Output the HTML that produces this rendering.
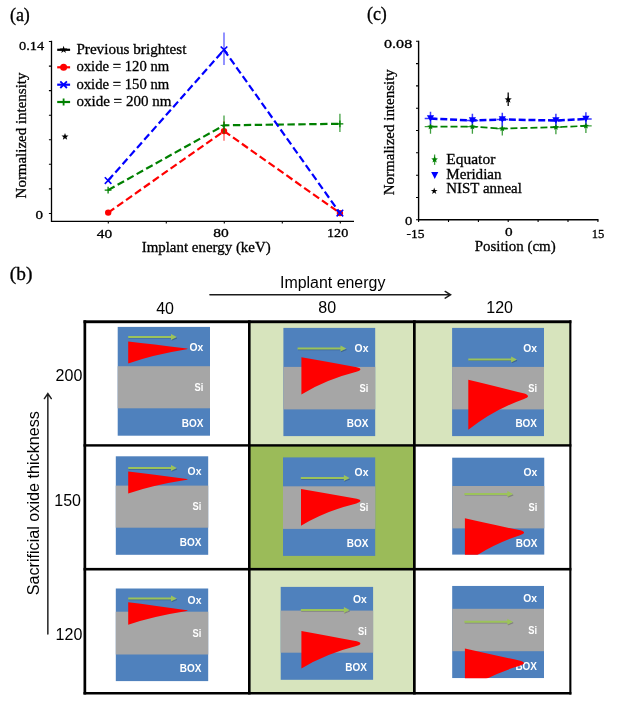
<!DOCTYPE html>
<html><head><meta charset="utf-8"><title>Figure</title>
<style>html,body{margin:0;padding:0;background:#fff;}svg{display:block;}</style></head><body>
<svg width="621" height="725" viewBox="0 0 621 725" style="will-change:transform">
<rect x="0" y="0" width="621" height="725" fill="#fff"/>
<text x="9.9" y="20.5" font-size="18" font-family="'Liberation Serif', serif" text-anchor="start" fill="#000" stroke="#000" stroke-width="0.3" >(a)</text>
<text x="366.9" y="20.1" font-size="18" font-family="'Liberation Serif', serif" text-anchor="start" fill="#000" stroke="#000" stroke-width="0.3" >(c)</text>
<text x="9.8" y="280.3" font-size="18" font-family="'Liberation Serif', serif" text-anchor="start" fill="#000" stroke="#000" stroke-width="0.3" textLength="22.6" lengthAdjust="spacingAndGlyphs" >(b)</text>
<path d="M51.5 40.8L51.5 221.4L354 221.4" stroke="#000" stroke-width="1.3" fill="none"/>
<path d="M48.9 41.5L51.5 41.5M48.9 66.1L51.5 66.1M48.9 90.6L51.5 90.6M48.9 115.2L51.5 115.2M48.9 139.8L51.5 139.8M48.9 164.3L51.5 164.3M48.9 188.9L51.5 188.9M48.9 213.5L51.5 213.5M108.3 221.4L108.3 223.5M166.3 221.4L166.3 223.5M224.3 221.4L224.3 223.5M282.3 221.4L282.3 223.5M340.3 221.4L340.3 223.5" stroke="#000" stroke-width="1.1" fill="none"/>
<path d="M224 121L224 140.8" stroke="#ff0000" stroke-opacity="0.6" stroke-width="1.4"/>
<polyline points="108.2,212.6 224,131.1 339.9,213.1" stroke="#ff0000" stroke-width="2.2" fill="none" stroke-dasharray="7.4 3.5"/>
<circle cx="108.2" cy="212.6" r="3.2" fill="#ff0000"/>
<circle cx="224" cy="131.1" r="3.2" fill="#ff0000"/>
<circle cx="339.9" cy="213.1" r="3.2" fill="#ff0000"/>
<path d="M224 115.6L224 133.6M339.9 113.8L339.9 131.9" stroke="#008000" stroke-opacity="0.6" stroke-width="1.6"/>
<polyline points="108.1,190.1 224,125.3 339.9,123.8" stroke="#008000" stroke-width="2.2" fill="none" stroke-dasharray="7.4 3.5"/>
<path d="M104.69999999999999 190.1L111.5 190.1M108.1 186.7L108.1 193.5" stroke="#008000" stroke-width="1.3" fill="none"/>
<path d="M220.6 125.3L227.4 125.3M224 121.89999999999999L224 128.7" stroke="#008000" stroke-width="1.3" fill="none"/>
<path d="M336.5 123.8L343.29999999999995 123.8M339.9 120.39999999999999L339.9 127.2" stroke="#008000" stroke-width="1.3" fill="none"/>
<path d="M224 32.6L224 65" stroke="#0000ff" stroke-opacity="0.5" stroke-width="1.7"/>
<polyline points="108.1,180.6 224,49.8 339.9,213.1" stroke="#0000ff" stroke-width="2.2" fill="none" stroke-dasharray="7.4 3.5"/>
<path d="M104.8 177.29999999999998L111.39999999999999 183.9M104.8 183.9L111.39999999999999 177.29999999999998" stroke="#0000ff" stroke-width="1.6" fill="none"/>
<path d="M220.7 46.5L227.3 53.099999999999994M220.7 53.099999999999994L227.3 46.5" stroke="#0000ff" stroke-width="1.6" fill="none"/>
<path d="M336.59999999999997 209.79999999999998L343.2 216.4M336.59999999999997 216.4L343.2 209.79999999999998" stroke="#0000ff" stroke-width="1.6" fill="none"/>
<polygon points="65.00,133.00 65.91,135.45 68.52,135.56 66.47,137.18 67.17,139.69 65.00,138.25 62.83,139.69 63.53,137.18 61.48,135.56 64.09,135.45" fill="#000"/>
<path d="M57.2 49.8L70.1 49.8" stroke="#000" stroke-width="2.2"/>
<polygon points="63.60,45.80 64.50,48.56 67.40,48.56 65.05,50.27 65.95,53.04 63.60,51.33 61.25,53.04 62.15,50.27 59.80,48.56 62.70,48.56" fill="#000"/>
<path d="M57.2 67.3L70.1 67.3" stroke="#ff0000" stroke-width="2.2"/>
<circle cx="63.6" cy="67.3" r="3.5" fill="#ff0000"/>
<path d="M57.2 84.7L70.1 84.7" stroke="#0000ff" stroke-width="2.2"/>
<path d="M60.300000000000004 81.4L66.9 88.0M60.300000000000004 88.0L66.9 81.4" stroke="#0000ff" stroke-width="1.8" fill="none"/>
<path d="M57.2 102.0L70.1 102.0" stroke="#008000" stroke-width="2.2"/>
<path d="M60.1 102.0L67.1 102.0M63.6 98.5L63.6 105.5" stroke="#008000" stroke-width="1.8" fill="none"/>
<text x="76.4" y="53.9" font-size="15" font-family="'Liberation Serif', serif" text-anchor="start" fill="#000" stroke="#000" stroke-width="0.3" textLength="110" lengthAdjust="spacingAndGlyphs" >Previous brightest</text>
<text x="76.4" y="71.2" font-size="15" font-family="'Liberation Serif', serif" text-anchor="start" fill="#000" stroke="#000" stroke-width="0.3" textLength="92.8" lengthAdjust="spacingAndGlyphs" >oxide = 120 nm</text>
<text x="76.4" y="88.5" font-size="15" font-family="'Liberation Serif', serif" text-anchor="start" fill="#000" stroke="#000" stroke-width="0.3" textLength="92.8" lengthAdjust="spacingAndGlyphs" >oxide = 150 nm</text>
<text x="76.4" y="105.7" font-size="15" font-family="'Liberation Serif', serif" text-anchor="start" fill="#000" stroke="#000" stroke-width="0.3" textLength="95.1" lengthAdjust="spacingAndGlyphs" >oxide = 200 nm</text>
<text x="44.2" y="50.0" font-size="13" font-family="'Liberation Serif', serif" text-anchor="end" fill="#000" stroke="#000" stroke-width="0.3" textLength="25.2" lengthAdjust="spacingAndGlyphs" >0.14</text>
<text x="42.9" y="219.2" font-size="12" font-family="'Liberation Serif', serif" text-anchor="end" fill="#000" stroke="#000" stroke-width="0.3" textLength="7.5" lengthAdjust="spacingAndGlyphs" >0</text>
<text x="104.5" y="238.0" font-size="13" font-family="'Liberation Serif', serif" text-anchor="middle" fill="#000" stroke="#000" stroke-width="0.3" textLength="15.4" lengthAdjust="spacingAndGlyphs" >40</text>
<text x="221.1" y="237.0" font-size="13" font-family="'Liberation Serif', serif" text-anchor="middle" fill="#000" stroke="#000" stroke-width="0.3" textLength="15.5" lengthAdjust="spacingAndGlyphs" >80</text>
<text x="337.6" y="237.0" font-size="12" font-family="'Liberation Serif', serif" text-anchor="middle" fill="#000" stroke="#000" stroke-width="0.3" textLength="21.2" lengthAdjust="spacingAndGlyphs" >120</text>
<text x="206.2" y="251.9" font-size="15" font-family="'Liberation Serif', serif" text-anchor="middle" fill="#000" stroke="#000" stroke-width="0.3" textLength="129" lengthAdjust="spacingAndGlyphs" >Implant energy (keV)</text>
<text transform="translate(25.6 135.5) rotate(-90)"  stroke="#000" stroke-width="0.3" font-size="15" font-family="'Liberation Serif', serif" text-anchor="middle" textLength="125.8" lengthAdjust="spacingAndGlyphs">Normalized intensity</text>
<path d="M418.6 40.699999999999996L418.6 219.8L598.5 219.8" stroke="#000" stroke-width="1.4" fill="none"/>
<path d="M416.0 41.3L418.6 41.3M416.0 63.6L418.6 63.6M416.0 85.9L418.6 85.9M416.0 108.2L418.6 108.2M416.0 130.5L418.6 130.5M416.0 152.8L418.6 152.8M416.0 175.2L418.6 175.2M416.0 197.5L418.6 197.5M416.0 219.8L418.6 219.8M418.6 219.8L418.6 222.10000000000002M448.5 219.8L448.5 222.10000000000002M478.4 219.8L478.4 222.10000000000002M508.2 219.8L508.2 222.10000000000002M538.1 219.8L538.1 222.10000000000002M568.0 219.8L568.0 222.10000000000002M597.9 219.8L597.9 222.10000000000002" stroke="#000" stroke-width="1.1" fill="none"/>
<path d="M430.5 120.7L430.5 133.7M424.7 126.7L436.3 126.7M472.4 120.7L472.4 133.7M466.59999999999997 126.7L478.2 126.7M502.3 122.6L502.3 135.6M496.5 128.6L508.1 128.6M555.9 121.2L555.9 134.2M550.1 127.2L561.6999999999999 127.2M585.9 119.9L585.9 132.9M580.1 125.9L591.6999999999999 125.9" stroke="#3f9f3f" stroke-width="1.3" fill="none"/>
<path d="M430.5 111.8L430.5 126.6M424.7 118.6L436.3 118.6M472.4 113.7L472.4 128.5M466.59999999999997 120.5L478.2 120.5M502.3 112.7L502.3 127.5M496.5 119.5L508.1 119.5M555.9 113.7L555.9 128.5M550.1 120.5L561.6999999999999 120.5M585.9 112.2L585.9 127.0M580.1 119.0L591.6999999999999 119.0" stroke="#3a3aff" stroke-width="1.5" fill="none"/>
<polyline points="430.5,126.7 472.4,126.7 502.3,128.6 555.9,127.2 585.9,125.9" stroke="#008000" stroke-width="1.7" fill="none" stroke-dasharray="7 3"/>
<polyline points="430.5,118.6 472.4,120.5 502.3,119.5 555.9,120.5 585.9,119.0" stroke="#0000ff" stroke-width="2.5" fill="none" stroke-dasharray="7 2.8"/>
<polygon points="430.50,123.40 431.38,125.49 433.64,125.68 431.93,127.16 432.44,129.37 430.50,128.20 428.56,129.37 429.07,127.16 427.36,125.68 429.62,125.49" fill="#008000"/>
<polygon points="472.40,123.40 473.28,125.49 475.54,125.68 473.83,127.16 474.34,129.37 472.40,128.20 470.46,129.37 470.97,127.16 469.26,125.68 471.52,125.49" fill="#008000"/>
<polygon points="502.30,125.30 503.18,127.39 505.44,127.58 503.73,129.06 504.24,131.27 502.30,130.10 500.36,131.27 500.87,129.06 499.16,127.58 501.42,127.39" fill="#008000"/>
<polygon points="555.90,123.90 556.78,125.99 559.04,126.18 557.33,127.66 557.84,129.87 555.90,128.70 553.96,129.87 554.47,127.66 552.76,126.18 555.02,125.99" fill="#008000"/>
<polygon points="585.90,122.60 586.78,124.69 589.04,124.88 587.33,126.36 587.84,128.57 585.90,127.40 583.96,128.57 584.47,126.36 582.76,124.88 585.02,124.69" fill="#008000"/>
<polygon points="426.9,115.3 434.1,115.3 430.5,121.8" fill="#0000ff"/>
<polygon points="468.79999999999995,117.2 476.0,117.2 472.4,123.7" fill="#0000ff"/>
<polygon points="498.7,116.2 505.90000000000003,116.2 502.3,122.7" fill="#0000ff"/>
<polygon points="552.3,117.2 559.5,117.2 555.9,123.7" fill="#0000ff"/>
<polygon points="582.3,115.7 589.5,115.7 585.9,122.2" fill="#0000ff"/>
<path d="M508.2 92.4L508.2 105.9" stroke="#111" stroke-width="1.35"/>
<polygon points="508.20,95.80 509.14,98.31 511.81,98.43 509.72,100.09 510.43,102.67 508.20,101.20 505.97,102.67 506.68,100.09 504.59,98.43 507.26,98.31" fill="#000"/>
<path d="M434.6 154.5L434.6 164.9" stroke="#3f9f3f" stroke-width="1.3"/>
<polygon points="434.60,156.10 435.54,158.31 437.93,158.52 436.12,160.09 436.66,162.43 434.60,161.20 432.54,162.43 433.08,160.09 431.27,158.52 433.66,158.31" fill="#008000"/>
<polygon points="431.2,172.1 438.3,172.1 434.75,178.9" fill="#0000ff"/>
<polygon points="434.20,187.40 435.01,189.89 437.62,189.89 435.51,191.42 436.32,193.91 434.20,192.38 432.08,193.91 432.89,191.42 430.78,189.89 433.39,189.89" fill="#000"/>
<text x="446.3" y="163.8" font-size="15" font-family="'Liberation Serif', serif" text-anchor="start" fill="#000" stroke="#000" stroke-width="0.3" textLength="49.0" lengthAdjust="spacingAndGlyphs" >Equator</text>
<text x="446.3" y="178.6" font-size="15" font-family="'Liberation Serif', serif" text-anchor="start" fill="#000" stroke="#000" stroke-width="0.3" textLength="55.3" lengthAdjust="spacingAndGlyphs" >Meridian</text>
<text x="446.3" y="193.2" font-size="15" font-family="'Liberation Serif', serif" text-anchor="start" fill="#000" stroke="#000" stroke-width="0.3" textLength="75.5" lengthAdjust="spacingAndGlyphs" >NIST anneal</text>
<text x="412.2" y="47.6" font-size="13" font-family="'Liberation Serif', serif" text-anchor="end" fill="#000" stroke="#000" stroke-width="0.3" textLength="28.2" lengthAdjust="spacingAndGlyphs" >0.08</text>
<text x="412.3" y="224.9" font-size="12" font-family="'Liberation Serif', serif" text-anchor="end" fill="#000" stroke="#000" stroke-width="0.3" textLength="7.3" lengthAdjust="spacingAndGlyphs" >0</text>
<text x="415.6" y="237.5" font-size="13" font-family="'Liberation Serif', serif" text-anchor="middle" fill="#000" stroke="#000" stroke-width="0.3" textLength="18" lengthAdjust="spacingAndGlyphs" >-15</text>
<text x="508.7" y="236.3" font-size="12" font-family="'Liberation Serif', serif" text-anchor="middle" fill="#000" stroke="#000" stroke-width="0.3" textLength="7.6" lengthAdjust="spacingAndGlyphs" >0</text>
<text x="598.1" y="237.5" font-size="13" font-family="'Liberation Serif', serif" text-anchor="middle" fill="#000" stroke="#000" stroke-width="0.3" textLength="12.6" lengthAdjust="spacingAndGlyphs" >15</text>
<text x="515.2" y="250.7" font-size="15" font-family="'Liberation Serif', serif" text-anchor="middle" fill="#000" stroke="#000" stroke-width="0.3" textLength="81.0" lengthAdjust="spacingAndGlyphs" >Position (cm)</text>
<text transform="translate(394.3 132.2) rotate(-90)"  stroke="#000" stroke-width="0.3" font-size="15" font-family="'Liberation Serif', serif" text-anchor="middle" textLength="126" lengthAdjust="spacingAndGlyphs">Normalized intensity</text>
<text x="332.7" y="287.6" font-size="16" font-family="'Liberation Sans', sans-serif" text-anchor="middle" fill="#000" textLength="105.3" lengthAdjust="spacingAndGlyphs" >Implant energy</text>
<path d="M209.9 294.8L450.4 294.8M445.2 291.4L450.6 294.8L445.2 298.2" stroke="#1c1c1c" stroke-width="1.45" fill="none" stroke-linecap="round" stroke-linejoin="miter"/>
<text x="165.1" y="314.2" font-size="16" font-family="'Liberation Sans', sans-serif" text-anchor="middle" fill="#000" >40</text>
<text x="327.2" y="313.2" font-size="16" font-family="'Liberation Sans', sans-serif" text-anchor="middle" fill="#000" >80</text>
<text x="499.6" y="313.4" font-size="16" font-family="'Liberation Sans', sans-serif" text-anchor="middle" fill="#000" >120</text>
<text x="82.3" y="381.2" font-size="16" font-family="'Liberation Sans', sans-serif" text-anchor="end" fill="#000" >200</text>
<text x="81.0" y="506.2" font-size="16" font-family="'Liberation Sans', sans-serif" text-anchor="end" fill="#000" >150</text>
<text x="82.3" y="639.6" font-size="16" font-family="'Liberation Sans', sans-serif" text-anchor="end" fill="#000" >120</text>
<path d="M47.85 634L47.85 393.8M44.4 398.6L47.85 393.5L51.3 398.6" stroke="#1c1c1c" stroke-width="1.45" fill="none" stroke-linecap="round" stroke-linejoin="miter"/>
<text transform="translate(39.4 503.2) rotate(-90)" font-size="16" font-family="'Liberation Sans', sans-serif" text-anchor="middle" textLength="184.3" lengthAdjust="spacingAndGlyphs">Sacrificial oxide thickness</text>
<rect x="249.5" y="321.8" width="165.0" height="123.5" fill="#d7e4bd"/>
<rect x="414.5" y="321.8" width="156.0" height="123.5" fill="#d7e4bd"/>
<rect x="249.5" y="445.3" width="165.0" height="123.99999999999994" fill="#9bbb59"/>
<rect x="249.5" y="569.3" width="165.0" height="123.90000000000009" fill="#d7e4bd"/>
<rect x="117.7" y="326.9" width="92.3" height="108.8" fill="#4f81bd"/>
<rect x="117.7" y="366.2" width="92.3" height="42.1" fill="#a6a6a6"/>
<text x="203.3" y="350.9" font-size="10.6" font-family="'Liberation Sans', sans-serif" text-anchor="end" fill="#fff" font-weight="bold" textLength="13.8" lengthAdjust="spacingAndGlyphs" >Ox</text>
<text x="203.3" y="391.09999999999997" font-size="10.6" font-family="'Liberation Sans', sans-serif" text-anchor="end" fill="#fff" font-weight="bold" textLength="8.8" lengthAdjust="spacingAndGlyphs" >Si</text>
<text x="203.3" y="426.5" font-size="10.6" font-family="'Liberation Sans', sans-serif" text-anchor="end" fill="#fff" font-weight="bold" textLength="21.6" lengthAdjust="spacingAndGlyphs" >BOX</text>
<path d="M128.2 341.4 Q151.9 343.9 186.8 348.4 C187.2 348.5 187.6 348.5 187.6 348.7 C187.6 349.0 187.2 349.1 186.7 349.3 Q153.1 354.8 128.2 363.5 Z" fill="#ff0000"/>
<path d="M128.6 337.9L173.6 337.9L172.0 339.79999999999995L176.9 337.79999999999995" stroke="#000" stroke-opacity="0.22" stroke-width="1.3" fill="none" stroke-linejoin="round"/>
<path d="M128.2 336.9L173.6 336.9" stroke="#9cc35a" stroke-width="2" fill="none"/>
<polygon points="171.0,333.9 176.79999999999998,336.9 171.0,339.9" fill="#9cc35a"/>
<rect x="283.4" y="327.9" width="91.8" height="108.2" fill="#4f81bd"/>
<rect x="283.4" y="366.9" width="91.8" height="42.5" fill="#a6a6a6"/>
<text x="368.4" y="352.09999999999997" font-size="10.6" font-family="'Liberation Sans', sans-serif" text-anchor="end" fill="#fff" font-weight="bold" textLength="13.8" lengthAdjust="spacingAndGlyphs" >Ox</text>
<text x="368.4" y="391.9" font-size="10.6" font-family="'Liberation Sans', sans-serif" text-anchor="end" fill="#fff" font-weight="bold" textLength="8.8" lengthAdjust="spacingAndGlyphs" >Si</text>
<text x="368.4" y="427.09999999999997" font-size="10.6" font-family="'Liberation Sans', sans-serif" text-anchor="end" fill="#fff" font-weight="bold" textLength="21.6" lengthAdjust="spacingAndGlyphs" >BOX</text>
<path d="M301.4 357.2 Q324.8 361.2 356.8 367.2 C358.8 367.7 360.4 368.3 360.4 369.2 C360.4 370.2 358.6 371.0 356.4 371.8 Q326.0 379.5 301.4 394.4 Z" fill="#ff0000"/>
<path d="M298.0 349.6L343.1 349.6L341.5 351.5L346.40000000000003 349.5" stroke="#000" stroke-opacity="0.22" stroke-width="1.3" fill="none" stroke-linejoin="round"/>
<path d="M297.6 348.6L343.1 348.6" stroke="#9cc35a" stroke-width="2" fill="none"/>
<polygon points="340.5,345.6 346.3,348.6 340.5,351.6" fill="#9cc35a"/>
<rect x="452.1" y="327.9" width="91.9" height="108.2" fill="#4f81bd"/>
<rect x="452.1" y="366.9" width="91.9" height="42.5" fill="#a6a6a6"/>
<text x="537" y="352.09999999999997" font-size="10.6" font-family="'Liberation Sans', sans-serif" text-anchor="end" fill="#fff" font-weight="bold" textLength="13.8" lengthAdjust="spacingAndGlyphs" >Ox</text>
<text x="537" y="391.9" font-size="10.6" font-family="'Liberation Sans', sans-serif" text-anchor="end" fill="#fff" font-weight="bold" textLength="8.8" lengthAdjust="spacingAndGlyphs" >Si</text>
<text x="537" y="426.9" font-size="10.6" font-family="'Liberation Sans', sans-serif" text-anchor="end" fill="#fff" font-weight="bold" textLength="21.6" lengthAdjust="spacingAndGlyphs" >BOX</text>
<path d="M468.3 379.7 Q492.0 385.3 524.4 393.6 C526.4 394.3 528.0 395.4 528.0 396.3 C528.0 397.3 526.2 398.1 524.0 398.9 Q493.2 410.0 468.3 429.8 Z" fill="#ff0000"/>
<path d="M468.7 360.4L513.7 360.4L512.1 362.29999999999995L517.0 360.29999999999995" stroke="#000" stroke-opacity="0.22" stroke-width="1.3" fill="none" stroke-linejoin="round"/>
<path d="M468.3 359.4L513.7 359.4" stroke="#9cc35a" stroke-width="2" fill="none"/>
<polygon points="511.1,356.4 516.9000000000001,359.4 511.1,362.4" fill="#9cc35a"/>
<rect x="115.8" y="456.3" width="92.4" height="98.5" fill="#4f81bd"/>
<rect x="115.8" y="485.6" width="92.4" height="42.1" fill="#a6a6a6"/>
<text x="201.4" y="475.29999999999995" font-size="10.6" font-family="'Liberation Sans', sans-serif" text-anchor="end" fill="#fff" font-weight="bold" textLength="13.8" lengthAdjust="spacingAndGlyphs" >Ox</text>
<text x="201.4" y="510.4" font-size="10.6" font-family="'Liberation Sans', sans-serif" text-anchor="end" fill="#fff" font-weight="bold" textLength="8.8" lengthAdjust="spacingAndGlyphs" >Si</text>
<text x="201.4" y="545.8" font-size="10.6" font-family="'Liberation Sans', sans-serif" text-anchor="end" fill="#fff" font-weight="bold" textLength="21.6" lengthAdjust="spacingAndGlyphs" >BOX</text>
<path d="M128.2 471.4 Q151.9 474.1 186.9 479.0 C187.3 479.1 187.6 479.1 187.6 479.3 C187.6 479.5 187.2 479.7 186.8 479.8 Q153.1 485.1 128.2 493.5 Z" fill="#ff0000"/>
<path d="M128.6 469.0L173.6 469.0L172.0 470.9L176.9 468.9" stroke="#000" stroke-opacity="0.22" stroke-width="1.3" fill="none" stroke-linejoin="round"/>
<path d="M128.2 468L173.6 468" stroke="#9cc35a" stroke-width="2" fill="none"/>
<polygon points="171.0,465.0 176.79999999999998,468 171.0,471.0" fill="#9cc35a"/>
<rect x="283" y="457.4" width="92.2" height="98.5" fill="#4f81bd"/>
<rect x="283" y="486.3" width="92.2" height="42.6" fill="#a6a6a6"/>
<text x="368.4" y="476.4" font-size="10.6" font-family="'Liberation Sans', sans-serif" text-anchor="end" fill="#fff" font-weight="bold" textLength="13.8" lengthAdjust="spacingAndGlyphs" >Ox</text>
<text x="368.4" y="511.29999999999995" font-size="10.6" font-family="'Liberation Sans', sans-serif" text-anchor="end" fill="#fff" font-weight="bold" textLength="8.8" lengthAdjust="spacingAndGlyphs" >Si</text>
<text x="368.4" y="546.5" font-size="10.6" font-family="'Liberation Sans', sans-serif" text-anchor="end" fill="#fff" font-weight="bold" textLength="21.6" lengthAdjust="spacingAndGlyphs" >BOX</text>
<path d="M301 489 Q324.6 493.0 356.8 498.8 C358.8 499.3 360.4 499.9 360.4 500.8 C360.4 501.8 358.6 502.6 356.4 503.4 Q325.8 510.9 301 525.7 Z" fill="#ff0000"/>
<path d="M301.2 479.1L346.5 479.1L344.9 481.0L349.8 479.0" stroke="#000" stroke-opacity="0.22" stroke-width="1.3" fill="none" stroke-linejoin="round"/>
<path d="M300.8 478.1L346.5 478.1" stroke="#9cc35a" stroke-width="2" fill="none"/>
<polygon points="343.9,475.1 349.7,478.1 343.9,481.1" fill="#9cc35a"/>
<clipPath id="c12"><rect x="452.1" y="457.4" width="92.4" height="97.4"/></clipPath>
<g clip-path="url(#c12)">
<rect x="452.1" y="457.4" width="92.4" height="97.4" fill="#4f81bd"/>
<rect x="452.1" y="486" width="92.4" height="42.4" fill="#a6a6a6"/>
<text x="537.3" y="475.9" font-size="10.6" font-family="'Liberation Sans', sans-serif" text-anchor="end" fill="#fff" font-weight="bold" textLength="13.8" lengthAdjust="spacingAndGlyphs" >Ox</text>
<text x="537.3" y="511.29999999999995" font-size="10.6" font-family="'Liberation Sans', sans-serif" text-anchor="end" fill="#fff" font-weight="bold" textLength="8.8" lengthAdjust="spacingAndGlyphs" >Si</text>
<text x="537.3" y="546.5" font-size="10.6" font-family="'Liberation Sans', sans-serif" text-anchor="end" fill="#fff" font-weight="bold" textLength="21.6" lengthAdjust="spacingAndGlyphs" >BOX</text>
<path d="M464.9 518.3 Q488.4 523.7 520.5 530.3 C522.5 530.8 524.1 531.7 524.1 532.6 C524.1 533.6 522.3 534.4 520.1 535.2 Q489.6 545.2 464.9 563.5 Z" fill="#ff0000"/>
<path d="M464.79999999999995 494.9L509.9 494.9L508.29999999999995 496.79999999999995L513.1999999999999 494.79999999999995" stroke="#000" stroke-opacity="0.22" stroke-width="1.3" fill="none" stroke-linejoin="round"/>
<path d="M464.4 493.9L509.9 493.9" stroke="#9cc35a" stroke-width="2" fill="none"/>
<polygon points="507.29999999999995,490.9 513.1,493.9 507.29999999999995,496.9" fill="#9cc35a"/>
</g>
<rect x="115.8" y="588.5" width="92.4" height="92.6" fill="#4f81bd"/>
<rect x="115.8" y="611.7" width="92.4" height="42.8" fill="#a6a6a6"/>
<text x="201.4" y="604.3" font-size="10.6" font-family="'Liberation Sans', sans-serif" text-anchor="end" fill="#fff" font-weight="bold" textLength="13.8" lengthAdjust="spacingAndGlyphs" >Ox</text>
<text x="201.4" y="637.0" font-size="10.6" font-family="'Liberation Sans', sans-serif" text-anchor="end" fill="#fff" font-weight="bold" textLength="8.8" lengthAdjust="spacingAndGlyphs" >Si</text>
<text x="201.4" y="671.9" font-size="10.6" font-family="'Liberation Sans', sans-serif" text-anchor="end" fill="#fff" font-weight="bold" textLength="21.6" lengthAdjust="spacingAndGlyphs" >BOX</text>
<path d="M128.2 602.2 Q151.9 605.1 186.9 610.3 C187.3 610.4 187.6 610.4 187.6 610.6 C187.6 610.8 187.2 611.0 186.8 611.1 Q153.1 616.4 128.2 624.8 Z" fill="#ff0000"/>
<path d="M128.6 599.6L173.6 599.6L172.0 601.5L176.9 599.5" stroke="#000" stroke-opacity="0.22" stroke-width="1.3" fill="none" stroke-linejoin="round"/>
<path d="M128.2 598.6L173.6 598.6" stroke="#9cc35a" stroke-width="2" fill="none"/>
<polygon points="171.0,595.6 176.79999999999998,598.6 171.0,601.6" fill="#9cc35a"/>
<rect x="280.7" y="586.9" width="92.4" height="92.9" fill="#4f81bd"/>
<rect x="280.7" y="610.6" width="92.4" height="42.1" fill="#a6a6a6"/>
<text x="366.8" y="603.1999999999999" font-size="10.6" font-family="'Liberation Sans', sans-serif" text-anchor="end" fill="#fff" font-weight="bold" textLength="13.8" lengthAdjust="spacingAndGlyphs" >Ox</text>
<text x="366.8" y="635.4" font-size="10.6" font-family="'Liberation Sans', sans-serif" text-anchor="end" fill="#fff" font-weight="bold" textLength="8.8" lengthAdjust="spacingAndGlyphs" >Si</text>
<text x="366.8" y="670.8" font-size="10.6" font-family="'Liberation Sans', sans-serif" text-anchor="end" fill="#fff" font-weight="bold" textLength="21.6" lengthAdjust="spacingAndGlyphs" >BOX</text>
<path d="M301.4 630.9 Q324.8 635.1 356.8 641.3 C358.8 641.9 360.4 642.5 360.4 643.4 C360.4 644.4 358.6 645.2 356.4 646.0 Q326.0 653.6 301.4 668.5 Z" fill="#ff0000"/>
<path d="M301.2 611.1L346.5 611.1L344.9 613.0L349.8 611.0" stroke="#000" stroke-opacity="0.22" stroke-width="1.3" fill="none" stroke-linejoin="round"/>
<path d="M300.8 610.1L346.5 610.1" stroke="#9cc35a" stroke-width="2" fill="none"/>
<polygon points="343.9,607.1 349.7,610.1 343.9,613.1" fill="#9cc35a"/>
<clipPath id="c22"><rect x="452.1" y="585.8" width="91.9" height="92.4"/></clipPath>
<g clip-path="url(#c22)">
<rect x="452.1" y="585.8" width="91.9" height="92.4" fill="#4f81bd"/>
<rect x="452.1" y="608.8" width="91.9" height="42.4" fill="#a6a6a6"/>
<text x="537" y="602.1" font-size="10.6" font-family="'Liberation Sans', sans-serif" text-anchor="end" fill="#fff" font-weight="bold" textLength="13.8" lengthAdjust="spacingAndGlyphs" >Ox</text>
<text x="537" y="634.3" font-size="10.6" font-family="'Liberation Sans', sans-serif" text-anchor="end" fill="#fff" font-weight="bold" textLength="8.8" lengthAdjust="spacingAndGlyphs" >Si</text>
<text x="537" y="669.6999999999999" font-size="10.6" font-family="'Liberation Sans', sans-serif" text-anchor="end" fill="#fff" font-weight="bold" textLength="21.6" lengthAdjust="spacingAndGlyphs" >BOX</text>
<path d="M464.9 648.4 Q488.3 653.7 520.3 660.7 C522.3 661.3 523.9 662.2 523.9 663.1 C523.9 664.1 522.1 664.9 519.9 665.7 Q489.5 674.7 464.9 691.5 Z" fill="#ff0000"/>
<path d="M464.79999999999995 622.8L509.9 622.8L508.29999999999995 624.6999999999999L513.1999999999999 622.6999999999999" stroke="#000" stroke-opacity="0.22" stroke-width="1.3" fill="none" stroke-linejoin="round"/>
<path d="M464.4 621.8L509.9 621.8" stroke="#9cc35a" stroke-width="2" fill="none"/>
<polygon points="507.29999999999995,618.8 513.1,621.8 507.29999999999995,624.8" fill="#9cc35a"/>
</g>
<rect x="83.5" y="320.3" width="2.70" height="374.20" fill="#000"/>
<rect x="569.3" y="320.3" width="2.10" height="374.20" fill="#000"/>
<rect x="83.5" y="320.3" width="487.90" height="2.90" fill="#000"/>
<rect x="83.5" y="692.0" width="487.90" height="2.50" fill="#000"/>
<rect x="248.0" y="320.3" width="2.60" height="374.20" fill="#000"/>
<rect x="413.0" y="320.3" width="2.70" height="374.20" fill="#000"/>
<rect x="83.5" y="444.2" width="487.90" height="2.40" fill="#000"/>
<rect x="83.5" y="567.9" width="487.90" height="2.60" fill="#000"/>
</svg></body></html>
